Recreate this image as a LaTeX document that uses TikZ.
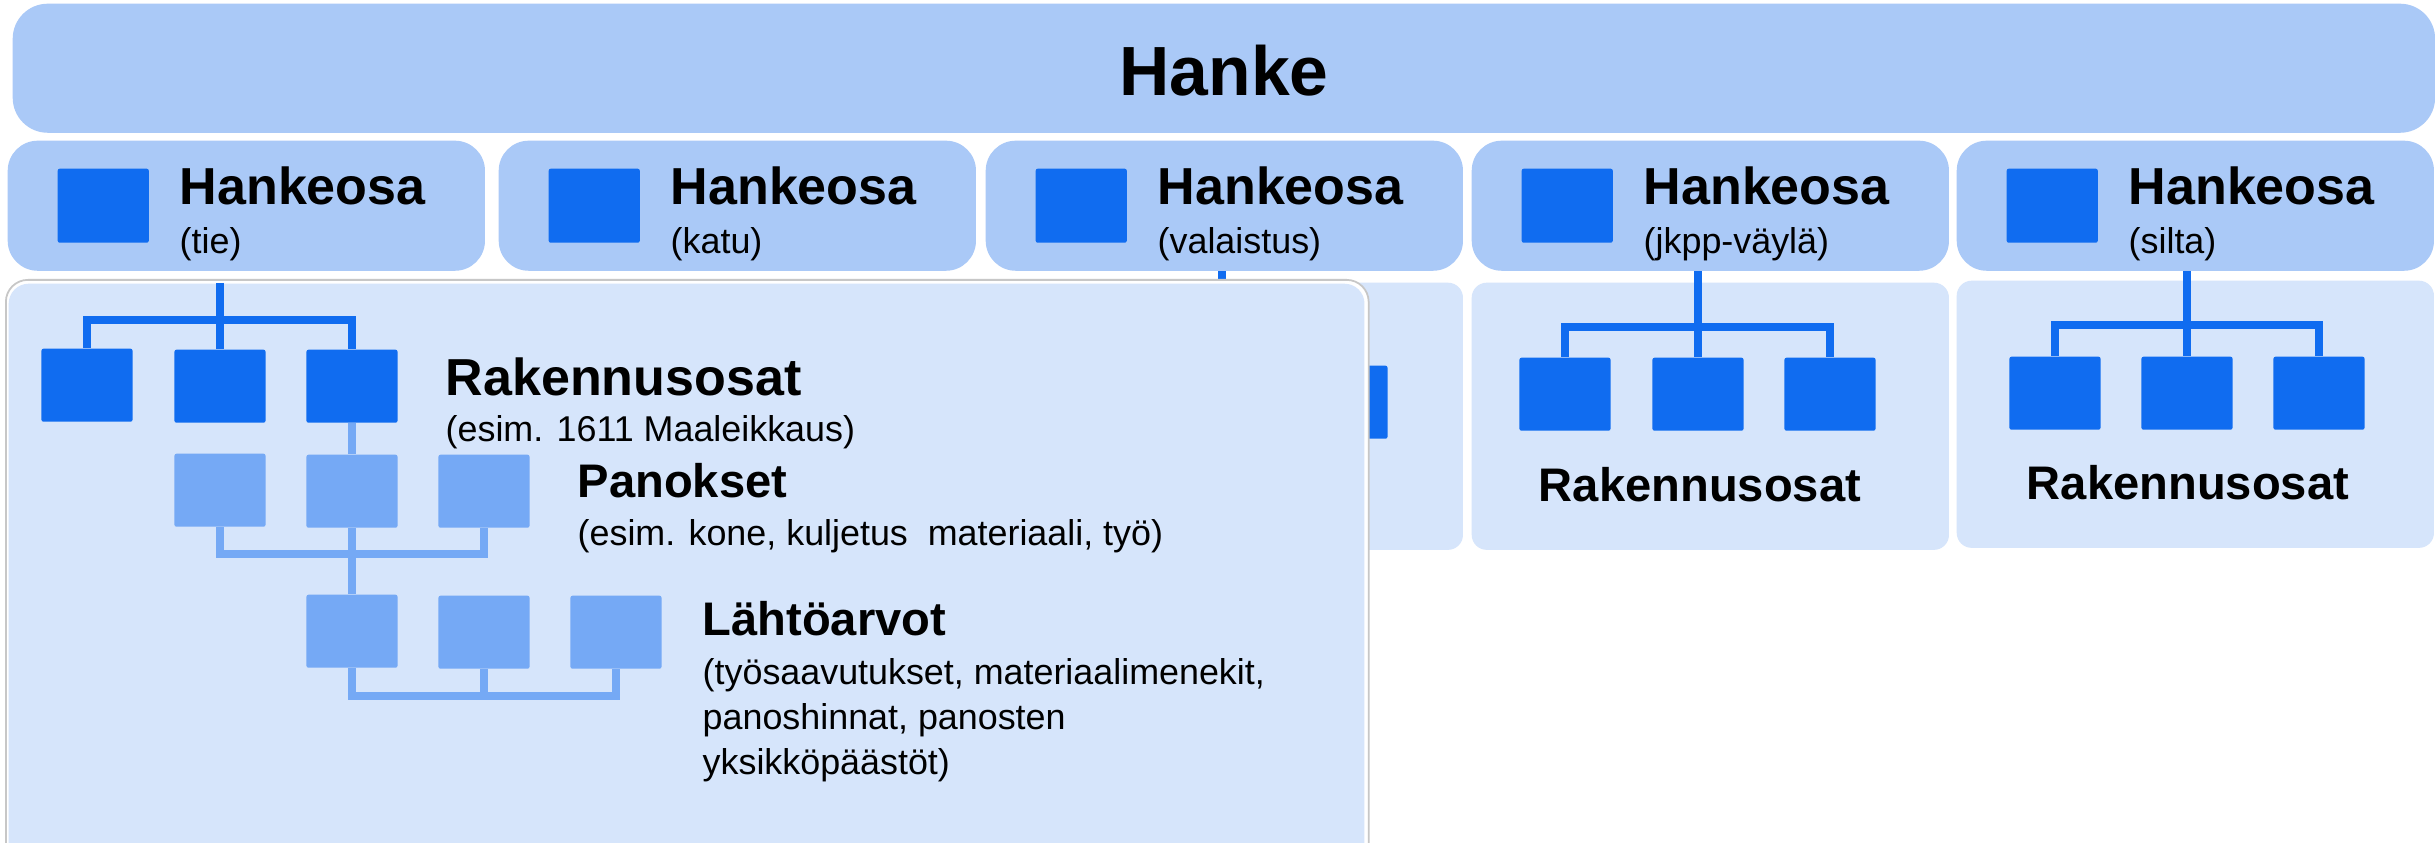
\documentclass[tikz,border=0pt]{standalone}
\usepackage{fontspec}
\setmainfont{Liberation Sans}
\definecolor{dk}{RGB}{16,108,240}
\definecolor{lt}{RGB}{117,169,245}
\definecolor{hb}{RGB}{170,201,247}
\definecolor{pn}{RGB}{214,229,251}
\tikzset{
  topbar/.style={rectangle, fill=hb, anchor=north west, inner sep=0pt, rounded corners=0.35cm},
  partbox/.style={rectangle, fill=hb, anchor=north west, inner sep=0pt, rounded corners=0.3cm,
    minimum width=4.77cm, minimum height=1.30cm},
  panel/.style={rectangle, fill=pn, anchor=north west, inner sep=0pt, rounded corners=0.15cm,
    minimum width=4.77cm, minimum height=2.67cm},
  icon/.style={rectangle, fill=dk, anchor=north west, inner sep=0pt, rounded corners=0.02cm,
    minimum width=0.91cm, minimum height=0.74cm},
  sqd/.style={rectangle, fill=dk, anchor=north, inner sep=0pt, rounded corners=0.02cm,
    minimum width=0.91cm, minimum height=0.73cm},
  sql/.style={sqd, fill=lt},
  cond/.style={draw=dk, line width=2.4pt},
  conl/.style={draw=lt, line width=2.4pt},
  ttl/.style={anchor=base west, inner sep=0pt, font=\fontsize{14.8pt}{16pt}\selectfont\bfseries},
  ttm/.style={anchor=base west, inner sep=0pt, font=\fontsize{13.4pt}{15pt}\selectfont\bfseries},
  ttc/.style={anchor=base, inner sep=0pt, font=\fontsize{13.4pt}{15pt}\selectfont\bfseries},
  sub/.style={anchor=base west, inner sep=0pt, align=left, font=\fontsize{10.2pt}{12.8pt}\selectfont},
}
\begin{document}
\begin{tikzpicture}[x=0.01cm,y=-0.01cm]
\useasboundingbox (0,0) rectangle (2435,843);
\clip (0,0) rectangle (2435,843);
\fill[white] (0,0) rectangle (2435,843);

% Hanke
\node[topbar, minimum width=24.21cm, minimum height=1.29cm] (hanke) at (12,3) {};
\node[inner sep=0pt, font=\fontsize{19.8pt}{22pt}\selectfont\bfseries] (hanketxt) at (1224,71) {Hanke};

% Hankeosa boxes
\foreach \i/\x/\s in {1/7/(tie),2/498/(katu),3/985/(valaistus),4/1471/(jkpp-väylä),5/1956/(silta)}{
  \node[partbox] (h\i) at (\x,140) {};
  \node[icon] (ic\i) at (\x+50,168) {};
  \node[ttl] (ht\i) at (\x+172,205) {Hankeosa};
  \node[sub] (hs\i) at (\x+172,254) {\s};
}

% panels 3,4,5
\node[panel] (p3) at (985,282) {};
\node[panel] (p4) at (1471,282) {};
\node[panel] (p5) at (1956,280) {};

% tree 3 (mostly hidden)
\node[sqd] (r3a) at (1102,365) {};
\node[sqd] (r3b) at (1222,365) {};
\node[sqd] (r3c) at (1342,365) {};
\coordinate (b3) at (1222,335);
\draw[cond] (h3.south -| r3b.north) -- (r3b.north);
\draw[cond] (r3a.north) |- (b3) -| (r3c.north);

% tree 4
\node[sqd] (r4a) at (1565,357) {};
\node[sqd] (r4b) at (1698,357) {};
\node[sqd] (r4c) at (1830,357) {};
\coordinate (b4) at (1698,327);
\draw[cond] (h4.south -| r4b.north) -- (r4b.north);
\draw[cond] (r4a.north) |- (b4) -| (r4c.north);
\node[ttc] (rt4) at (1700,502) {Rakennusosat};

% tree 5
\node[sqd] (r5a) at (2055,356) {};
\node[sqd] (r5b) at (2187,356) {};
\node[sqd] (r5c) at (2319,356) {};
\coordinate (b5) at (2187,325);
\draw[cond] (h5.south -| r5b.north) -- (r5b.north);
\draw[cond] (r5a.north) |- (b5) -| (r5c.north);
\node[ttc] (rt5) at (2188,500) {Rakennusosat};

% big panel for Hankeosa 1
\node[rectangle, anchor=north west, inner sep=0pt, fill=white, draw=black!22, line width=0.5pt,
  rounded corners=0.22cm, minimum width=13.62cm, minimum height=6.0cm] (p1b) at (5,279) {};
\node[rectangle, anchor=north west, inner sep=0pt, fill=pn, rounded corners=0.2cm,
  minimum width=13.55cm, minimum height=5.9cm] (p1) at (8,283) {};

% level 1 (dark)
\node[sqd] (r1a) at (87,348) {};
\node[sqd] (r1b) at (220,349) {};
\node[sqd] (r1c) at (352,349) {};
\coordinate (b1) at (220,320);
\draw[cond] (p1.north -| b1) -- (b1);
\draw[cond] (r1a.north) |- (b1) -| (r1c.north);
\draw[cond] (b1) -- (r1b.north);

% level 2 (light)
\node[sql] (s1) at (220,453) {};
\node[sql] (s2) at (352,454) {};
\node[sql] (s3) at (484,454) {};
\coordinate (b2) at (352,554);
\draw[conl] (r1c.south) -- (s2.north);
\draw[conl] (s1.south) |- (b2) -| (s3.south);
\draw[conl] (s2.south) -- (b2);

% level 3 (light)
\node[sql] (t1) at (352,594) {};
\node[sql] (t2) at (484,595) {};
\node[sql] (t3) at (616,595) {};
\coordinate (b3l) at (484,696);
\draw[conl] (b2) -- (t1.north);
\draw[conl] (t1.south) |- (b3l) -| (t3.south);
\draw[conl] (t2.south) -- (b3l);

% texts
\node[ttl] (l1) at (445,396) {Rakennusosat};
\node[sub] (l1s) at (445,442) {(esim. 1611 Maaleikkaus)};
\node[ttm] (l2) at (577,498) {Panokset};
\node[sub] (l2s) at (577,546) {(esim. kone, kuljetus\ \ materiaali, työ)};
\node[ttm] (l3) at (702,636) {Lähtöarvot};
\node[sub, anchor=north west] (l3s) at (702,658) {(työsaavutukset, materiaalimenekit,\\panoshinnat, panosten\\yksikköpäästöt)};
\end{tikzpicture}
\end{document}
